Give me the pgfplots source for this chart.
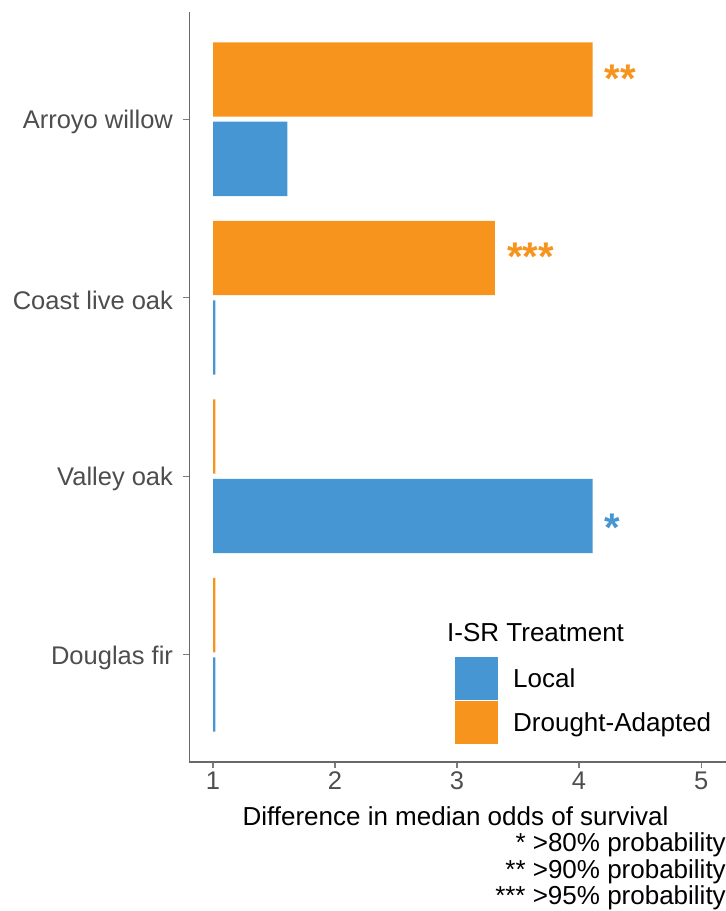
\documentclass[border=0pt]{standalone}
\usepackage{pgfplots}
\pgfplotsset{compat=1.18}
\usepackage{fontspec}
\setmainfont{Liberation Sans}
\definecolor{local}{RGB}{69,150,210}
\definecolor{drought}{RGB}{247,148,30}
\definecolor{ticklab}{RGB}{77,77,77}
\definecolor{spine}{RGB}{105,105,105}
\definecolor{tickc}{RGB}{125,125,125}
\newcommand{\bigf}{\fontsize{26}{30}\selectfont}
\begin{document}
\begin{tikzpicture}[x=1pt,y=1pt]
\begin{axis}[
  at={(189.5pt,149pt)}, anchor=south west,
  scale only axis, width=536pt, height=750pt,
  xmin=0.807, xmax=5.2, ymin=0.4, ymax=4.6,
  x coord trafo/.code={\pgfmathparse{#1-1}},
  x coord inv trafo/.code={\pgfmathparse{#1+1}},
  xtick={1,2,3,4,5}, xticklabels={1,2,3,4,5},
  ytick={1,2,3,4}, yticklabels={Douglas fir,Valley oak,Coast live oak,Arroyo willow},
  axis lines*=left,
  axis line style={draw=spine, line width=1.2pt},
  tick align=outside, major tick length=6pt,
  tick style={draw=tickc, line width=1.2pt},
  ticklabel style={font=\fontsize{25.5}{30}\selectfont, text=ticklab},
  yticklabel style={xshift=-7pt, yshift=-3pt},
  legend style={draw=none, fill=none, at={(0.4953,0.14)}, anchor=north west,
    inner sep=0pt, row sep=1pt, column sep=15pt, font=\bigf,
    nodes={inner sep=0pt}},
  legend cell align=left,
]
\addplot[xbar, bar width=0.416, bar shift=-0.2225, fill=local, draw=none,
  legend image code/.code={\fill[local] (0pt,-21.5pt) rectangle (43pt,21.5pt);}]
  coordinates {(1.02,1) (4.11,2) (1.02,3) (1.61,4)};
\addlegendentry{Local}
\addplot[xbar, bar width=0.416, bar shift=0.2225, fill=drought, draw=none,
  legend image code/.code={\fill[drought] (0pt,-21.5pt) rectangle (43pt,21.5pt);}]
  coordinates {(1.02,1) (1.02,2) (3.31,3) (4.11,4)};
\addlegendentry{Drought-Adapted}
\node[anchor=base west, text=drought, font=\fontsize{40}{40}\selectfont, inner sep=0pt, xshift=12pt, yshift=-13pt] at (axis cs:4.11,4.2225) {\textbf{**}};
\node[anchor=base west, text=drought, font=\fontsize{40}{40}\selectfont, inner sep=0pt, xshift=12pt, yshift=-13pt] at (axis cs:3.31,3.2225) {\textbf{***}};
\node[anchor=base west, text=local, font=\fontsize{40}{40}\selectfont, inner sep=0pt, xshift=12pt, yshift=-25pt] at (axis cs:4.11,1.7775) {\textbf{*}};
\end{axis}
\node[anchor=base west, font=\bigf, inner sep=0pt] at (447,269) {I-SR Treatment};
\node[anchor=base, font=\bigf, inner sep=0pt] at (455.5,85) {Difference in median odds of survival};
\node[anchor=base east, font=\bigf, inner sep=0pt] at (726,59) {* >80\% probability};
\node[anchor=base east, font=\bigf, inner sep=0pt] at (726,32) {** >90\% probability};
\node[anchor=base east, font=\bigf, inner sep=0pt] at (726,6) {*** >95\% probability};
\pgfresetboundingbox
\path[use as bounding box] (0,0) rectangle (726,911);
\end{tikzpicture}
\end{document}
